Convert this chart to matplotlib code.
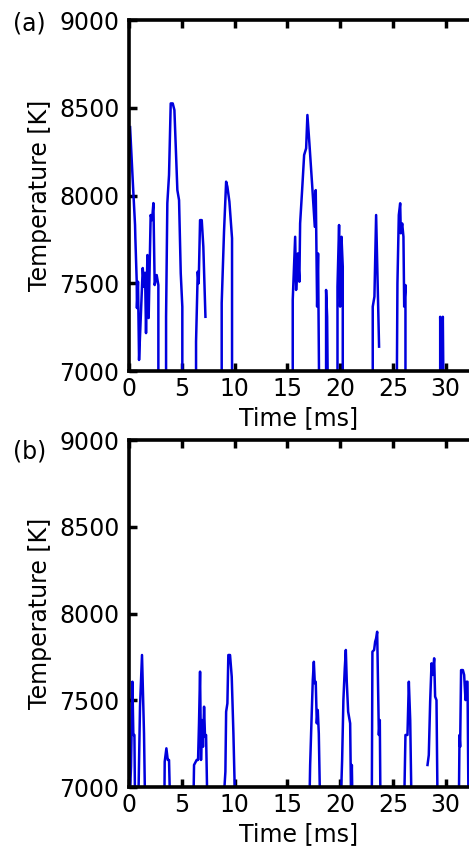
import numpy as np
import matplotlib
matplotlib.use("Agg")
import matplotlib.pyplot as plt

nan = np.nan
FLOOR = 6900  # below the axis, so the line drops to the bottom

# Panel (a): time [ms] and temperature [K], nan separates the bursts
time_a = [0.10, 0.35, 0.57, 0.60, 0.73, 0.75, 0.85, 0.95, 1.11, 1.30, 1.42, 1.52, 1.61, 1.74, 1.86, 2.05, 2.18, 2.31, 2.43, 2.62, 2.78, 2.78, nan,
          3.51, 3.51, 3.63, 3.79, 3.95, 4.14, 4.30, 4.58, 4.74, 4.90, 5.05, 5.05, nan,
          6.35, 6.35, 6.51, 6.60, 6.73, 6.89, 7.04, 7.24, nan,
          8.78, 8.78, 9.00, 9.20, 9.32, 9.51, 9.76, 9.76, nan,
          15.51, 15.51, 15.74, 15.83, 15.99, 16.14, 16.21, 16.40, 16.59, 16.78, 16.90, 17.09, 17.35, 17.60, 17.69, 17.82, 17.91, 18.01, nan,
          18.67, 18.67, 18.77, 18.83, nan,
          19.75, 19.75, 19.90, 20.00, 20.13, 20.25, 20.25, nan,
          23.09, 23.09, 23.25, 23.41, 23.69, nan,
          25.37, 25.43, 25.56, 25.69, 25.75, 25.88, 26.00, 26.07, 26.19, 26.19, nan,
          29.48, 29.48, 29.60, 29.73, 29.79]
temp_a = [8390, 8088, 7832, 7758, 7509, 7359, 7509, 7063, 7302, 7587, 7480, 7560, 7216, 7661, 7302, 7889, 7860, 7957, 7490, 7547, 7490, FLOOR, nan,
          FLOOR, 7309, 7957, 8117, 8525, 8525, 8487, 8031, 7974, 7557, 7366, FLOOR, nan,
          FLOOR, 7167, 7566, 7500, 7860, 7860, 7708, 7309, nan,
          FLOOR, 7387, 7794, 8079, 8050, 7965, 7756, FLOOR, nan,
          FLOOR, 7405, 7765, 7462, 7670, 7509, 7841, 8031, 8231, 8269, 8459, 8297, 8060, 7822, 8031, 7367, 7670, FLOOR, nan,
          FLOOR, 7462, 7309, FLOOR, nan,
          FLOOR, 7480, 7832, 7367, 7765, 7594, FLOOR, nan,
          FLOOR, 7367, 7424, 7889, 7139, nan,
          FLOOR, 7500, 7889, 7956, 7785, 7841, 7765, 7367, 7490, FLOOR, nan,
          FLOOR, 7309, FLOOR, 7309, FLOOR]

# Panel (b)
time_b = [0.05, 0.19, 0.32, 0.41, 0.51, 0.57, nan,
          0.88, 1.04, 1.23, 1.42, 1.52, nan,
          3.35, 3.38, 3.54, 3.67, 3.79, 3.89, nan,
          6.10, 6.16, 6.41, 6.54, 6.63, 6.73, 6.82, 6.92, 7.01, 7.11, 7.20, 7.30, 7.42, nan,
          8.94, 9.13, 9.20, 9.32, 9.41, 9.57, 9.73, 9.89, 10.05, nan,
          17.09, 17.16, 17.25, 17.41, 17.51, 17.60, 17.69, 17.79, 17.88, 17.98, 18.10, nan,
          20.06, 20.19, 20.31, 20.44, 20.54, 20.63, 20.76, 20.95, 21.04, 21.11, 21.17, nan,
          23.00, 23.06, 23.22, 23.32, 23.41, 23.51, 23.60, 23.67, 23.76, 23.82, nan,
          26.07, 26.19, 26.38, 26.51, 26.64, 26.76, nan,
          28.28, 28.40, 28.53, 28.66, 28.78, 28.91, 29.00, 29.13, 29.23, nan,
          31.25, 31.31, 31.37, 31.46, 31.63, 31.75, 31.88, 31.98, 32.07, 32.16]
temp_b = [FLOOR, 7117, 7607, 7300, 7300, FLOOR, nan,
          FLOOR, 7463, 7761, 7309, FLOOR, nan,
          FLOOR, 7146, 7223, 7156, 7156, FLOOR, nan,
          FLOOR, 7127, 7156, 7156, 7367, 7665, 7156, 7386, 7232, 7463, 7290, 7300, FLOOR, nan,
          FLOOR, 7088, 7434, 7482, 7761, 7761, 7636, 7309, FLOOR, nan,
          FLOOR, 7127, 7309, 7617, 7722, 7598, 7607, 7367, 7444, 7309, FLOOR, nan,
          FLOOR, 7156, 7501, 7684, 7790, 7607, 7434, 7367, FLOOR, 7127, FLOOR, nan,
          FLOOR, 7780, 7790, 7838, 7857, 7895, 7559, 7300, 7386, FLOOR, nan,
          FLOOR, 7300, 7300, 7607, 7386, FLOOR, nan,
          7127, 7184, 7492, 7713, 7646, 7742, 7521, 7501, FLOOR, nan,
          FLOOR, 7300, 7232, 7674, 7674, 7646, 7501, 7607, 7607, FLOOR]

x_ticks = [0, 5, 10, 15, 20, 25, 30]
y_ticks = [7000, 7500, 8000, 8500, 9000]
panel_labels = ["(a)", "(b)"]

plt.rcParams['font.family'] = 'DejaVu Sans'
plt.rcParams['font.size'] = 17

fig = plt.figure(figsize=(4.69, 8.5), dpi=100)
ax_a = fig.add_axes([0.2751, 0.5635, 0.7249, 0.4129])
ax_b = fig.add_axes([0.2751, 0.0741, 0.7249, 0.4082])

for ax, t, T in [(ax_a, time_a, temp_a), (ax_b, time_b, temp_b)]:
    ax.plot(t, T, color='#0000dd', lw=1.8)
    ax.set_xlim(0, 32.21)
    ax.set_ylim(7000, 9000)
    ax.set_xticks(x_ticks)
    ax.set_yticks(y_ticks)
    ax.spines['right'].set_visible(False)
    for s in ['left', 'bottom', 'top']:
        ax.spines[s].set_linewidth(2.6)
    ax.tick_params(direction='in', length=5.5, width=2.5, top=True, right=False)
    ax.tick_params(axis='x', pad=4)
    ax.tick_params(axis='y', pad=7)
    ax.set_xlabel("Time [ms]", labelpad=4)
    ax.set_ylabel("Temperature [K]")
    ax.yaxis.set_label_coords(-0.226, 0.5)

fig.text(29 / 469, 1 - 24 / 850, panel_labels[0], ha='center', va='center')
fig.text(30 / 469, 1 - 452 / 850, panel_labels[1], ha='center', va='center')

fig.savefig("out.png", dpi=100)
